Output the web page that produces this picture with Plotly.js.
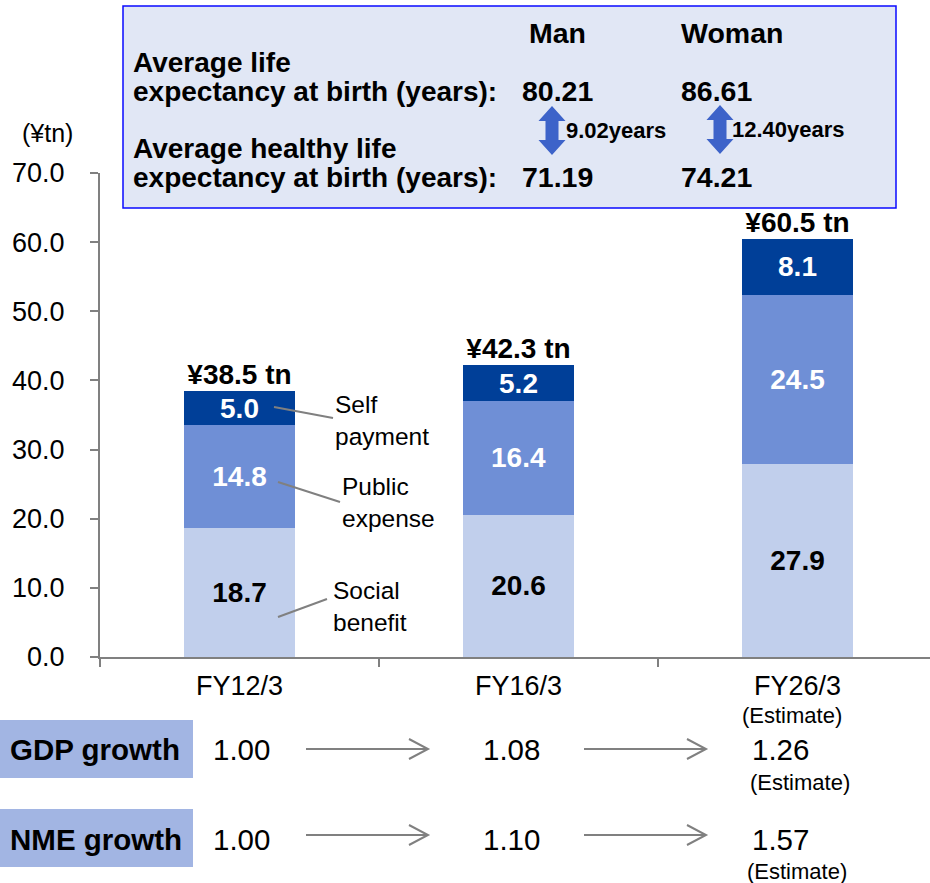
<!DOCTYPE html>
<html>
<head>
<meta charset="utf-8">
<script src="https://cdn.plot.ly/plotly-3.0.1.min.js"></script>
<style>html,body{margin:0;padding:0;background:#fff;}#chart{width:930px;height:883px;}</style>
</head>
<body>
<div id="chart"></div>
<script>
// ---- data ----
const categories = ['FY12/3', 'FY16/3', 'FY26/3'];
const socialBenefit = [18.7, 20.6, 27.9];
const publicExpense = [14.8, 16.4, 24.5];
const selfPayment = [5.0, 5.2, 8.1];
const totals = [38.5, 42.3, 60.5];
const gdpGrowth = [1.00, 1.08, 1.26];
const nmeGrowth = [1.00, 1.10, 1.57];
const lifeMan = {avg: 80.21, healthy: 71.19, gap: 9.02};
const lifeWoman = {avg: 86.61, healthy: 74.21, gap: 12.40};

// ---- layout helpers (pixel -> paper) ----
const L = 100, T = 173, W = 830, H = 484;
const X = px => (px - L) / W;
const Y = py => (T + H - py) / H;
const FONT = 'Arial, "Liberation Sans", sans-serif';

const cLight = '#C1CFEC', cMid = '#6F8FD6', cDark = '#003F98';

const barCommon = {
  type: 'bar', x: categories, width: 0.4,
  texttemplate: '%{y:.1f}', textposition: 'inside', insidetextanchor: 'middle',
  textangle: 0, constraintext: 'none', hoverinfo: 'skip', marker: {line: {width: 0}}
};
const traces = [
  Object.assign({}, barCommon, {name: 'Social benefit', y: socialBenefit, marker: {color: cLight},
    textfont: {family: FONT, size: 28, color: '#000', weight: 'bold'}}),
  Object.assign({}, barCommon, {name: 'Public expense', y: publicExpense, marker: {color: cMid},
    textfont: {family: FONT, size: 28, color: '#fff', weight: 'bold'}}),
  Object.assign({}, barCommon, {name: 'Self payment', y: selfPayment, marker: {color: cDark},
    textfont: {family: FONT, size: 28, color: '#fff', weight: 'bold'}}),
  {type: 'scatter', mode: 'text', x: categories, y: totals,
   text: totals.map(v => '¥' + v.toFixed(1) + ' tn'), textposition: 'top center',
   textfont: {family: FONT, size: 28, color: '#000', weight: 'bold'}, hoverinfo: 'skip', cliponaxis: false}
];

const ann = [];
function txt(text, px, py, size, opts) {
  ann.push(Object.assign({xref: 'paper', yref: 'paper', x: X(px), y: Y(py), text: text,
    showarrow: false, xanchor: 'left', yanchor: 'middle', align: 'left',
    font: {family: FONT, size: size, color: '#000'}}, opts || {}));
}
// unit
txt('(¥tn)', 47, 133, 25, {xanchor: 'center'});
// info box texts
txt('<b>Man</b>', 557, 33, 28.5, {xanchor: 'center'});
txt('<b>Woman</b>', 732, 33, 28.5, {xanchor: 'center'});
txt('<b>Average life</b>', 131, 62, 28);
txt('<b>expectancy at birth (years):</b>', 131, 91, 28);
txt('<b>' + lifeMan.avg.toFixed(2) + '</b>', 520, 91, 28.5);
txt('<b>' + lifeWoman.avg.toFixed(2) + '</b>', 679, 91, 28.5);
txt('<b>Average healthy life</b>', 131, 148, 28);
txt('<b>expectancy at birth (years):</b>', 131, 177, 28);
txt('<b>' + lifeMan.healthy.toFixed(2) + '</b>', 520, 177, 28.5);
txt('<b>' + lifeWoman.healthy.toFixed(2) + '</b>', 679, 177, 28.5);
txt('<b>' + lifeMan.gap.toFixed(2) + 'years</b>', 564, 130, 22);
txt('<b>' + lifeWoman.gap.toFixed(2) + 'years</b>', 730, 129, 22);
// segment labels
txt('Self<br>payment', 333, 420, 24.5);
txt('Public<br>expense', 340, 502, 24.5);
txt('Social<br>benefit', 331, 606, 24.5);
// x estimate note
txt('(Estimate)', 792, 715, 22, {xanchor: 'center'});
// growth rows
txt('<b>GDP growth</b>', 8, 749, 29.5);
txt('<b>NME growth</b>', 8, 839, 29.5);
const growthLeft = [211, 481, 750];
gdpGrowth.forEach((v, i) => txt(v.toFixed(2), growthLeft[i], 749, 29.5));
nmeGrowth.forEach((v, i) => txt(v.toFixed(2), growthLeft[i], 839, 29.5));
txt('(Estimate)', 800, 782, 22, {xanchor: 'center'});
txt('(Estimate)', 797, 871, 22, {xanchor: 'center'});

// ---- shapes ----
const shapes = [];
function rectPx(x0, y0, x1, y1, fill, line) {
  shapes.push({type: 'rect', xref: 'paper', yref: 'paper', x0: X(x0), x1: X(x1), y0: Y(y0), y1: Y(y1),
    fillcolor: fill, line: line || {width: 0}, layer: 'below'});
}
function linePx(x0, y0, x1, y1, color, w) {
  shapes.push({type: 'line', xref: 'paper', yref: 'paper', x0: X(x0), x1: X(x1), y0: Y(y0), y1: Y(y1),
    line: {color: color, width: w}});
}
function pathPx(pts, close, fill, line) {
  let d = pts.map((p, i) => (i ? 'L' : 'M') + X(p[0]).toFixed(5) + ',' + Y(p[1]).toFixed(5)).join(' ');
  if (close) d += ' Z';
  shapes.push({type: 'path', xref: 'paper', yref: 'paper', path: d,
    fillcolor: fill || 'rgba(0,0,0,0)', line: line || {width: 0}});
}
// info box
rectPx(123, 6, 896, 208, '#E1E7F5', {color: '#0A0AFF', width: 1.5});
// double arrows
function dblArrow(cx, top, bot) {
  const hw = 13.5, sw = 6.5, hh = 15;
  pathPx([[cx, top], [cx + hw, top + hh], [cx + sw, top + hh], [cx + sw, bot - hh], [cx + hw, bot - hh],
    [cx, bot], [cx - hw, bot - hh], [cx - sw, bot - hh], [cx - sw, top + hh], [cx - hw, top + hh]],
    true, '#3D63C9', {width: 0});
}
dblArrow(552, 106, 155);
dblArrow(720, 105, 154);
// leader lines
linePx(274, 407, 333, 418, '#808080', 2);
linePx(278, 482, 340, 502, '#808080', 2);
linePx(278, 617, 327, 599, '#808080', 2);
// growth label boxes
rectPx(0, 720, 193, 778, '#A2B5E3');
rectPx(0, 809, 193, 867, '#A2B5E3');
// growth arrows
function grayArrow(x0, x1, y) {
  linePx(x0, y, x1, y, '#808080', 2);
  pathPx([[x1 - 19, y - 10], [x1, y], [x1 - 19, y + 10]], false, null, {color: '#808080', width: 2});
}
grayArrow(306, 428, 749);
grayArrow(584, 706, 749);
grayArrow(306, 428, 835);
grayArrow(584, 706, 835);

const layout = {
  width: 930, height: 883, autosize: false,
  margin: {l: L, r: 930 - L - W, t: T, b: 883 - T - H, pad: 0},
  paper_bgcolor: '#fff', plot_bgcolor: '#fff',
  barmode: 'stack', showlegend: false,
  font: {family: FONT, color: '#000'},
  xaxis: {type: 'category', range: [-0.5, 2.4749], showline: true, linecolor: '#808080', linewidth: 2,
    ticks: 'outside', tickson: 'boundaries', ticklen: 8, tickcolor: '#808080', tickwidth: 2,
    showgrid: false, zeroline: false, tickfont: {family: FONT, size: 27, color: '#000'}, ticklabelstandoff: 4,
    fixedrange: true},
  yaxis: {range: [0, 70], dtick: 10, tickformat: '.1f', showline: true, linecolor: '#808080', linewidth: 2,
    ticks: 'outside', ticklen: 8, tickcolor: '#808080', tickwidth: 2, showgrid: false, zeroline: false,
    tickfont: {family: FONT, size: 27, color: '#000'}, ticklabelstandoff: 20, fixedrange: true},
  annotations: ann,
  shapes: shapes
};
Plotly.newPlot('chart', traces, layout, {displayModeBar: false, staticPlot: true});
</script>
</body>
</html>
